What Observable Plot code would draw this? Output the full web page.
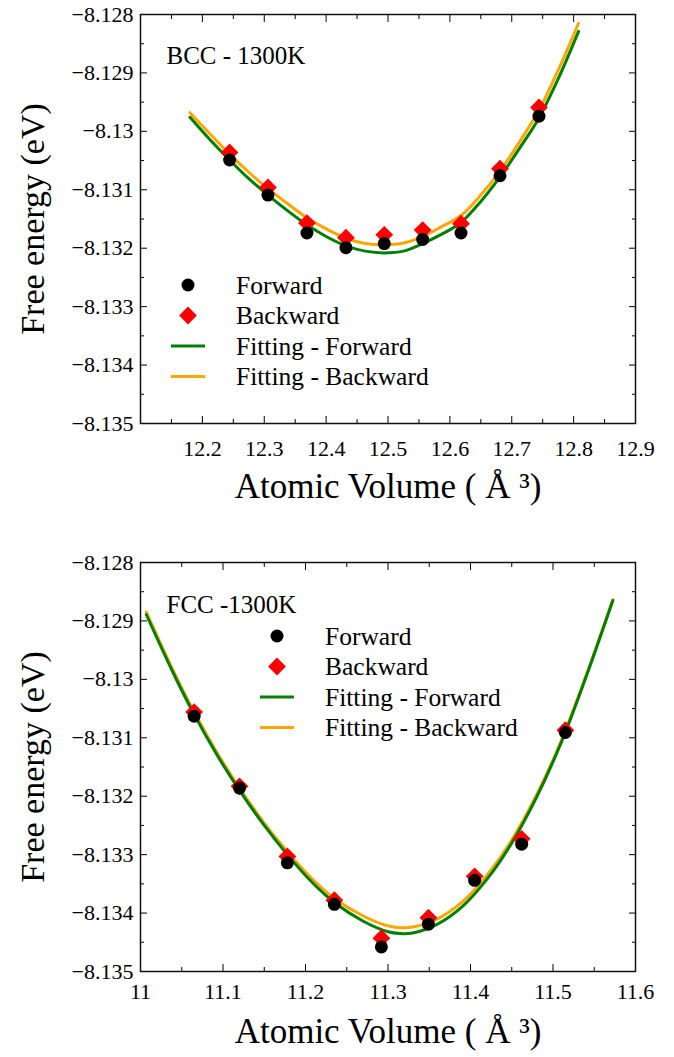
<!DOCTYPE html>
<html><head><meta charset="utf-8">
<script src="https://cdn.jsdelivr.net/npm/d3@7"></script>
<script src="https://cdn.jsdelivr.net/npm/@observablehq/plot@0.6"></script>
<style>
body{margin:0;background:#fff;}
#chart{width:674px;}
#chart svg{display:block;font-family:"Liberation Serif","Times New Roman",serif !important;}
#chart svg g, #chart svg text{font-family:"Liberation Serif","Times New Roman",serif !important;}
</style></head><body><div id="chart"></div>
<script>
// ---------- BCC panel data ----------
const bccVolume   = [12.244, 12.306, 12.369, 12.432, 12.494, 12.556, 12.618, 12.681, 12.744];
const bccForward  = [-8.13049, -8.13109, -8.13174, -8.13199, -8.13192, -8.13185, -8.13174, -8.13076, -8.12974];
const bccBackward = [-8.13036, -8.13096, -8.13157, -8.13182, -8.13177, -8.13169, -8.13158, -8.13064, -8.12959];
const bccFitVolume = [12.18, 12.212, 12.244, 12.275, 12.306, 12.338, 12.369, 12.40, 12.432, 12.463, 12.494, 12.525, 12.556, 12.587, 12.618, 12.65, 12.681, 12.712, 12.744, 12.776, 12.808];
const bccFitForward  = [-8.12976, -8.13014, -8.13049, -8.13081, -8.13109, -8.13136, -8.13160, -8.13180, -8.13196, -8.13205, -8.13208, -8.13205, -8.13192, -8.13176, -8.13156, -8.13120, -8.13078, -8.13030, -8.12977, -8.12908, -8.12829];
const bccFitBackward = [-8.12968, -8.13004, -8.13039, -8.13070, -8.13098, -8.13124, -8.13148, -8.13167, -8.13183, -8.13192, -8.13194, -8.13191, -8.13180, -8.13163, -8.13144, -8.13109, -8.13068, -8.13019, -8.12964, -8.12893, -8.12815];
const bccXLabels = [12.2, 12.3, 12.4, 12.5, 12.6, 12.7, 12.8, 12.9];
const bccXMajor  = [12.2, 12.3, 12.4, 12.5, 12.6, 12.7, 12.8];
const bccXMinor  = [12.15, 12.25, 12.35, 12.45, 12.55, 12.65, 12.75, 12.85];

// ---------- FCC panel data ----------
const fccVolume   = [11.065, 11.120, 11.178, 11.235, 11.292, 11.349, 11.405, 11.462, 11.515];
const fccForward  = [-8.13063, -8.13186, -8.13314, -8.13385, -8.13458, -8.13419, -8.13344, -8.13282, -8.13091];
const fccBackward = [-8.13056, -8.13183, -8.13303, -8.13378, -8.13443, -8.13408, -8.13337, -8.13273, -8.13087];
const fccFitVolume = [11.007, 11.04, 11.065, 11.093, 11.12, 11.15, 11.178, 11.207, 11.235, 11.27, 11.30, 11.314, 11.33, 11.36, 11.39, 11.42, 11.45, 11.48, 11.51, 11.54, 11.5725];
const fccFitForward  = [-8.12889, -8.12990, -8.13060, -8.13130, -8.13190, -8.13250, -8.13300, -8.13346, -8.13382, -8.13414, -8.13432, -8.13435, -8.13434, -8.13419, -8.13389, -8.13342, -8.13280, -8.13202, -8.13108, -8.12996, -8.12865];
const fccFitBackward = [-8.12885, -8.12986, -8.13056, -8.13126, -8.13186, -8.13246, -8.13295, -8.13340, -8.13375, -8.13405, -8.13422, -8.13425, -8.13424, -8.13410, -8.13381, -8.13335, -8.13275, -8.13198, -8.13105, -8.12994, -8.12864];
const fccXLabels = [11, 11.1, 11.2, 11.3, 11.4, 11.5, 11.6];
const fccXMajor  = [11.1, 11.2, 11.3, 11.4, 11.5];
const fccXMinor  = [11.05, 11.15, 11.25, 11.35, 11.45, 11.55];

// ---------- shared ----------
const yLabels = [-8.128, -8.129, -8.13, -8.131, -8.132, -8.133, -8.134, -8.135];
const yMajor  = [-8.129, -8.13, -8.131, -8.132, -8.133, -8.134];
const yMinor  = [-8.1285, -8.1295, -8.1305, -8.1315, -8.1325, -8.1335, -8.1345];
const legendLabels = ["Forward", "Backward", "Fitting - Forward", "Fitting - Backward"];
const yTitle = "Free energy (eV)";
const xTitle = "Atomic Volume ( Å ³)";

const FONT = "Liberation Serif, Times New Roman, serif";
const GREEN = "#008000", ORANGE = "#FFA500", RED = "#FF0000";
const fmtY = d => String(d).replace("-", "\u2212");
const blank = () => "";

function panel(o) {
  const pts = o.vol.map((v, i) => ({v, f: o.fwd[i], b: o.bwd[i]}));
  const fit = o.fitVol.map((v, i) => ({v, f: o.fitF[i], b: o.fitB[i]}));
  const svg = Plot.plot({
    width: 674, height: o.height,
    marginTop: o.mt, marginBottom: o.mb, marginLeft: 140, marginRight: 39,
    style: {background: "#fff", color: "#000"},
    x: {domain: o.xDomain, label: null},
    y: {domain: [-8.135, -8.128], label: null},
    marks: [
      Plot.line(fit, {x: "v", y: "b", stroke: ORANGE, strokeWidth: 3, curve: "catmull-rom"}),
      Plot.line(fit, {x: "v", y: "f", stroke: GREEN, strokeWidth: 3, curve: "catmull-rom"}),
      Plot.dot(pts, {x: "v", y: "b", symbol: "diamond2", r: 8, fill: RED}),
      Plot.dot(pts, {x: "v", y: "f", r: 6.5, fill: "#000"}),
      Plot.frame({stroke: "#111", strokeWidth: 1.5}),
      // y axes
      Plot.axisY(yLabels, {anchor: "left", tickSize: 0, tickPadding: 7, tickFormat: fmtY, fontSize: 22, fontFamily: FONT, label: null}),
      Plot.axisY(yMajor, {anchor: "left", tickSize: -7, tickFormat: blank, label: null, stroke: "#000"}),
      Plot.axisY(yMinor, {anchor: "left", tickSize: -4, tickFormat: blank, label: null, stroke: "#000"}),
      Plot.axisY(yMajor, {anchor: "right", tickSize: -7, tickFormat: blank, label: null, stroke: "#000"}),
      Plot.axisY(yMinor, {anchor: "right", tickSize: -4, tickFormat: blank, label: null, stroke: "#000"}),
      // x axes
      Plot.axisX(o.xLabels, {anchor: "bottom", tickSize: 0, tickPadding: o.xPad, tickFormat: d => String(d), fontSize: 22, fontFamily: FONT, label: null}),
      Plot.axisX(o.xMajor, {anchor: "bottom", tickSize: -7, tickFormat: blank, label: null, stroke: "#000"}),
      Plot.axisX(o.xMinor, {anchor: "bottom", tickSize: -4, tickFormat: blank, label: null, stroke: "#000"}),
      Plot.axisX(o.xMajor, {anchor: "top", tickSize: -7, tickFormat: blank, label: null, stroke: "#000"}),
      Plot.axisX(o.xMinor, {anchor: "top", tickSize: -4, tickFormat: blank, label: null, stroke: "#000"}),
      // titles
      Plot.text([yTitle], {text: d => d, frameAnchor: "left", dx: -107, rotate: -90, textAnchor: "middle", fontSize: 34, fontFamily: FONT, fill: "#000"}),
      Plot.text([xTitle], {text: d => d, frameAnchor: "bottom", dy: o.xTitleDy, textAnchor: "middle", fontSize: 35, fontFamily: FONT, fill: "#000"}),
      Plot.text([o.label], {text: d => d, frameAnchor: "top-left", dx: 26, dy: o.labelDy, textAnchor: "start", fontSize: 25, fontFamily: FONT, fill: "#000"})
    ]
  });
  // legend
  const g = d3.select(svg).append("g").attr("font-family", FONT).attr("font-size", 25.5).attr("text-anchor", "start");
  legendLabels.forEach((lab, i) => {
    const y = o.legY + i * o.legStep;
    const row = g.append("g");
    if (i === 0) row.append("circle").attr("cx", o.legX).attr("cy", y).attr("r", 6.5).attr("fill", "#000");
    else if (i === 1) row.append("path").attr("transform", `translate(${o.legX},${y})`)
      .attr("d", d3.symbol(d3.symbolDiamond2, Math.PI * 8 * 8)()).attr("fill", RED);
    else row.append("line").attr("x1", o.legX - 17).attr("x2", o.legX + 17).attr("y1", y).attr("y2", y)
      .attr("stroke", i === 2 ? GREEN : ORANGE).attr("stroke-width", 3);
    row.append("text").attr("x", o.legTextX).attr("y", y).attr("dy", "0.35em")
      .attr("text-anchor", "start").attr("fill", "#000").text(lab);
  });
  return svg;
}

const chart = document.getElementById("chart");
chart.appendChild(panel({
  height: 540, mt: 14, mb: 117, xDomain: [12.1, 12.9],
  vol: bccVolume, fwd: bccForward, bwd: bccBackward,
  fitVol: bccFitVolume, fitF: bccFitForward, fitB: bccFitBackward,
  xLabels: bccXLabels, xMajor: bccXMajor, xMinor: bccXMinor, xPad: 17, xTitleDy: 74,
  label: "BCC - 1300K", labelDy: 32,
  legX: 188, legY: 285, legStep: 30.5, legTextX: 236
}));
chart.appendChild(panel({
  height: 517, mt: 22, mb: 86, xDomain: [11, 11.6],
  vol: fccVolume, fwd: fccForward, bwd: fccBackward,
  fitVol: fccFitVolume, fitF: fccFitForward, fitB: fccFitBackward,
  xLabels: fccXLabels, xMajor: fccXMajor, xMinor: fccXMinor, xPad: 12, xTitleDy: 71,
  label: "FCC -1300K", labelDy: 33,
  legX: 277, legY: 96, legStep: 30.5, legTextX: 325
}));
</script></body></html>
